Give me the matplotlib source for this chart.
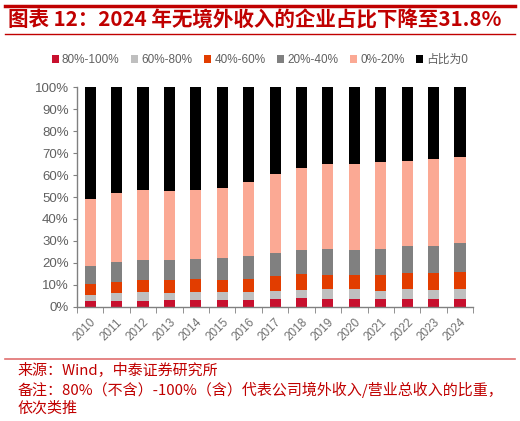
import matplotlib
matplotlib.use("Agg")
import matplotlib.pyplot as plt
from matplotlib.lines import Line2D
from matplotlib.patches import Patch
import numpy as np

plt.rcParams['font.family'] = ['Liberation Sans', 'Noto Sans CJK SC', 'DejaVu Sans']

years = ['2010', '2011', '2012', '2013', '2014', '2015', '2016', '2017',
         '2018', '2019', '2020', '2021', '2022', '2023', '2024']
series_names = ['80%-100%', '60%-80%', '40%-60%', '20%-40%', '0%-20%', '占比为0']
s80_100 = [2.6, 2.6, 2.6, 2.9, 2.9, 2.9, 3.2, 3.5, 4.0, 3.5, 3.5, 3.5, 3.5, 3.5, 3.5]
s60_80 = [2.7, 3.5, 3.9, 3.2, 3.6, 3.6, 3.6, 3.8, 3.6, 4.4, 4.4, 3.8, 4.4, 4.1, 4.4]
s40_60 = [5.0, 5.3, 5.7, 6.1, 6.0, 5.7, 6.0, 6.5, 7.4, 6.7, 6.7, 7.3, 7.4, 7.7, 8.1]
s20_40 = [8.4, 9.0, 8.9, 8.9, 9.2, 10.0, 10.5, 10.8, 10.7, 11.5, 11.1, 11.5, 12.2, 12.2, 12.9]
s0_20 = [30.4, 31.6, 31.9, 31.5, 31.6, 31.9, 33.4, 35.9, 37.4, 38.8, 39.5, 39.7, 38.8, 39.7, 39.3]
s_zero = [50.9, 48.0, 47.0, 47.4, 46.7, 45.9, 43.3, 39.5, 36.9, 35.1, 34.8, 34.2, 33.7, 32.8, 31.8]
y_ticks = [0, 10, 20, 30, 40, 50, 60, 70, 80, 90, 100]
y_tick_labels = ['0%', '10%', '20%', '30%', '40%', '50%', '60%', '70%', '80%', '90%', '100%']

colors = ['#C8102E', '#BFBFBF', '#E23D00', '#808080', '#FBA994', '#000000']
data = [s80_100, s60_80, s40_60, s20_40, s0_20, s_zero]

fig = plt.figure(figsize=(5.2, 4.21), dpi=100)
ax = fig.add_axes([0.148, 0.2715, 0.762, 0.5211])

x = np.arange(len(years))
bottom = np.zeros(len(years))
for name, vals, c in zip(series_names, data, colors):
    v = np.array(vals)
    ax.bar(x, v, width=0.42, bottom=bottom, color=c, label=name, linewidth=0)
    bottom += v

ax.set_xlim(-0.5, len(years) - 0.5)
ax.set_ylim(0, 100)
ax.set_yticks(y_ticks)
ax.set_yticklabels(y_tick_labels)
ax.set_xticks(x)
ax.set_xticklabels(years, rotation=45, ha='right', rotation_mode='anchor')
ax.set_xticks(np.arange(-0.5, len(years), 1.0), minor=True)
ax.tick_params(axis='x', which='major', length=0, pad=7, labelsize=8.5, labelcolor='#707070')
ax.tick_params(axis='x', which='minor', length=4, color='#808080', direction='out')
ax.tick_params(axis='y', length=3, color='#808080', labelsize=9.5, labelcolor='#606060', pad=3)
for s in ['top', 'right']:
    ax.spines[s].set_visible(False)
for s in ['left', 'bottom']:
    ax.spines[s].set_color('#808080')
    ax.spines[s].set_linewidth(1.0)

handles = [Patch(facecolor=c, edgecolor='none') for c in colors]
fig.legend(handles, series_names, loc='center', bbox_to_anchor=(0.5, 0.857), ncol=6,
           frameon=False, fontsize=8.5, handlelength=0.6, handleheight=0.6,
           handletextpad=0.25, columnspacing=1.0, labelcolor='#606060')

red = '#C00000'
fig.add_artist(Line2D([0.01, 0.99], [1 - 5.5/421, 1 - 5.5/421], color=red, lw=2.5, transform=fig.transFigure))
fig.add_artist(Line2D([0.01, 0.99], [1 - 34/421, 1 - 34/421], color=red, lw=1.0, transform=fig.transFigure))
fig.add_artist(Line2D([0.01, 0.99], [1 - 359/421, 1 - 359/421], color='#E07070', lw=1.2, transform=fig.transFigure))

fig.text(0.016, 1 - 20/421, '图表 12：2024 年无境外收入的企业占比下降至31.8%', color=red,
         fontsize=14.8, fontweight='bold', fontstyle='italic', va='center', ha='left',
         family=['Noto Sans CJK SC', 'DejaVu Sans'])

foot_kw = dict(color=red, fontsize=10.8, va='center', ha='left', family=['Noto Sans CJK SC', 'DejaVu Sans'])
fig.text(0.033, 1 - 370/421, '来源：Wind，中泰证券研究所', **foot_kw)
fig.text(0.033, 1 - 390/421, '备注：80%（不含）-100%（含）代表公司境外收入/营业总收入的比重，', **foot_kw)
fig.text(0.033, 1 - 409/421, '依次类推', **foot_kw)

fig.savefig('out.png', dpi=100)
